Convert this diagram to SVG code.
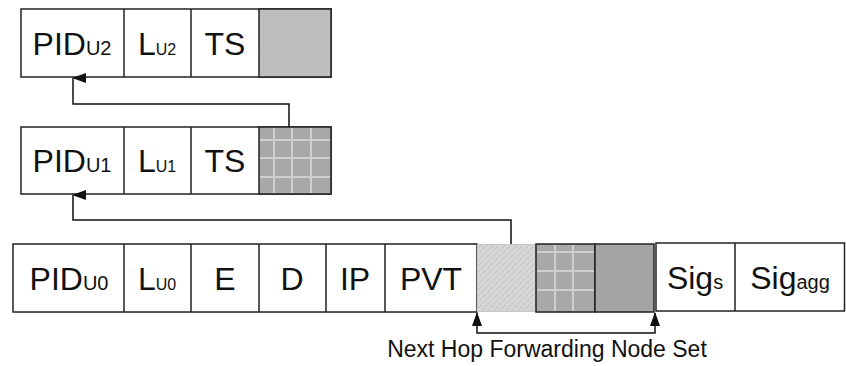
<svg xmlns="http://www.w3.org/2000/svg" width="846" height="366" viewBox="0 0 846 366">
<style>
  .box{fill:#fff;stroke:#222;stroke-width:1.5}
  .div{stroke:#222;stroke-width:1.5}
  .lbl{font-family:"Liberation Sans",Arial,sans-serif;font-size:32px;fill:#111;text-anchor:middle}
  .sub{font-size:20px}
  .subs{font-size:16px}
  .gl{stroke:#cfcfcf;stroke-width:2}
  .conn{fill:none;stroke:#111;stroke-width:1.5}
  .cap{font-family:"Liberation Sans",Arial,sans-serif;font-size:23px;fill:#111;text-anchor:middle}
</style>
<defs>
  <marker id="ah" viewBox="0 0 10 14" refX="5" refY="1" markerWidth="10" markerHeight="14" markerUnits="userSpaceOnUse" orient="auto-start-reverse">
    <path d="M0,14 L5,0 L10,14 Z" fill="#111"/>
  </marker>
  <marker id="ahs" viewBox="0 0 10 14" refX="5" refY="1" markerWidth="10" markerHeight="14" markerUnits="userSpaceOnUse" orient="0">
    <path d="M0,14 L5,0 L10,14 Z" fill="#111"/>
  </marker>
  <pattern id="hatch" width="6" height="6" patternUnits="userSpaceOnUse">
    <rect width="6" height="6" fill="#d6d6d6"/>
    <path d="M0,6 L6,0" stroke="#bdbdbd" stroke-width="1.2" stroke-dasharray="1.5 1.5"/>
  </pattern>
</defs>

<g id="row1">
  <rect class="box" x="21" y="9" width="310" height="68"/>
  <rect x="259" y="9" width="72" height="68" fill="#bebebe" stroke="#222" stroke-width="1.5"/>
  <line class="div" x1="124" y1="9" x2="124" y2="77"/>
  <line class="div" x1="191" y1="9" x2="191" y2="77"/>
  <text class="lbl" x="72" y="55">PID<tspan class="sub">U2</tspan></text>
  <text class="lbl" x="157" y="55">L<tspan class="subs">U2</tspan></text>
  <text class="lbl" x="225" y="55">TS</text>
</g>

<g id="row2">
  <rect class="box" x="21" y="127" width="310" height="67"/>
  <rect x="259" y="127" width="72" height="67" fill="#a8a8a8"/>
  <line class="gl" x1="274" y1="128" x2="274" y2="193"/>
  <line class="gl" x1="292" y1="128" x2="292" y2="193"/>
  <line class="gl" x1="311" y1="128" x2="311" y2="193"/>
  <line class="gl" x1="260" y1="140" x2="330" y2="140"/>
  <line class="gl" x1="260" y1="158" x2="330" y2="158"/>
  <line class="gl" x1="260" y1="177" x2="330" y2="177"/>
  <rect x="259" y="127" width="72" height="67" fill="none" stroke="#222" stroke-width="1.5"/>
  <line class="div" x1="124" y1="127" x2="124" y2="194"/>
  <line class="div" x1="191" y1="127" x2="191" y2="194"/>
  <text class="lbl" x="72" y="172">PID<tspan class="sub">U1</tspan></text>
  <text class="lbl" x="157" y="172">L<tspan class="subs">U1</tspan></text>
  <text class="lbl" x="225" y="172">TS</text>
</g>

<g id="row3">
  <rect class="box" x="13" y="244" width="464" height="68"/>
  <line class="div" x1="124" y1="244" x2="124" y2="312"/>
  <line class="div" x1="191" y1="244" x2="191" y2="312"/>
  <line class="div" x1="259" y1="244" x2="259" y2="312"/>
  <line class="div" x1="326" y1="244" x2="326" y2="312"/>
  <line class="div" x1="385" y1="244" x2="385" y2="312"/>
  <rect x="477.5" y="244.5" width="58" height="67" fill="url(#hatch)" stroke="#c8c8c8" stroke-width="1"/>
  <rect x="536" y="244" width="59" height="68" fill="#a8a8a8"/>
  <line class="gl" x1="555" y1="245" x2="555" y2="311"/>
  <line class="gl" x1="573" y1="245" x2="573" y2="311"/>
  <line class="gl" x1="537" y1="252" x2="594" y2="252"/>
  <line class="gl" x1="537" y1="271" x2="594" y2="271"/>
  <line class="gl" x1="537" y1="290" x2="594" y2="290"/>
  <rect x="536" y="244" width="59" height="68" fill="none" stroke="#222" stroke-width="1.5"/>
  <rect x="595" y="244" width="59" height="68" fill="#a4a4a4" stroke="#222" stroke-width="1.5"/>
  <text class="lbl" x="69" y="290">PID<tspan class="sub">U0</tspan></text>
  <text class="lbl" x="157" y="290">L<tspan class="subs">U0</tspan></text>
  <text class="lbl" x="225" y="290">E</text>
  <text class="lbl" x="292" y="290">D</text>
  <text class="lbl" x="355" y="290">IP</text>
  <text class="lbl" x="431" y="290">PVT</text>
</g>

<g id="sig">
  <rect class="box" x="656" y="243" width="188.5" height="68"/>
  <line class="div" x1="735" y1="243" x2="735" y2="311"/>
  <text class="lbl" x="695" y="289">Sig<tspan class="sub">s</tspan></text>
  <text class="lbl" x="790" y="289">Sig<tspan class="sub">agg</tspan></text>
</g>

<g id="connectors">
  <path class="conn" d="M289,127 V104 H73 V78" marker-end="url(#ah)"/>
  <path class="conn" d="M511,244 V220 H73 V195" marker-end="url(#ah)"/>
  <path class="conn" d="M477,313 V333 H655 V313" marker-start="url(#ahs)" marker-end="url(#ahs)"/>
</g>

<text class="cap" x="547" y="357">Next Hop Forwarding Node Set</text>
</svg>
